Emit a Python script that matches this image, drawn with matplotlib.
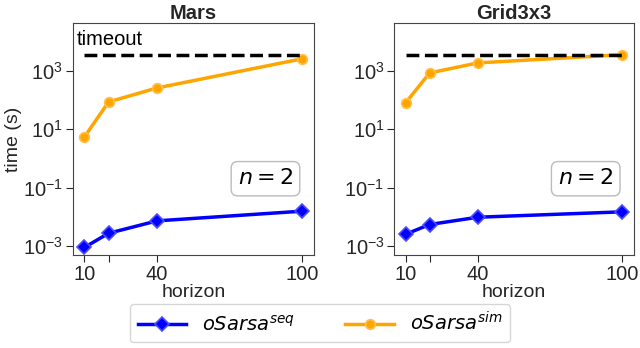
import matplotlib.pyplot as plt
from matplotlib.ticker import NullLocator, FixedLocator

horizons = [10, 20, 40, 100]
xtick_labels = ["10", "", "40", "100"]
timeout = 3600

panels = ["Mars", "Grid3x3"]
seq_times = {
    "Mars": [8.8e-4, 2.7e-3, 7.2e-3, 1.55e-2],
    "Grid3x3": [2.5e-3, 5.4e-3, 9.6e-3, 1.47e-2],
}
sim_times = {
    "Mars": [5.4, 86, 260, 2600],
    "Grid3x3": [80, 850, 1880, 3600],
}

plt.rcParams["font.family"] = ["Liberation Sans", "DejaVu Sans"]
plt.rcParams["font.size"] = 14
plt.rcParams["mathtext.fontset"] = "dejavusans"

fig = plt.figure(figsize=(6.4, 3.48), dpi=100)
ax_pos = [[0.114, 0.266, 0.376, 0.668], [0.616, 0.266, 0.374, 0.668]]

for i, name in enumerate(panels):
    ax = fig.add_axes(ax_pos[i])
    ax.plot(horizons, seq_times[name], color="blue", marker="D", markersize=7,
            linewidth=2.5, markeredgecolor="#4d4dff", markeredgewidth=1.2,
            label="$oSarsa^{seq}$")
    ax.plot(horizons, sim_times[name], color="orange", marker="o", markersize=7,
            linewidth=2.5, markeredgecolor="#ffc04d", markeredgewidth=1.2,
            label="$oSarsa^{sim}$")
    ax.plot([horizons[0], horizons[-1]], [timeout, timeout], "k--", linewidth=2.5)
    ax.set_yscale("log")
    ax.set_ylim(4.7e-4, 4.4e4)
    ax.set_xlim(5.3, 104.7)
    ax.yaxis.set_major_locator(FixedLocator([1e-3, 1e-1, 1e1, 1e3]))
    ax.yaxis.set_minor_locator(NullLocator())
    ax.set_xticks(horizons)
    ax.set_xticklabels(xtick_labels)
    ax.set_title(name, fontweight="bold", fontsize=14.5, pad=2, color="#262626")
    ax.set_xlabel("horizon", labelpad=0, color="#262626")
    for s in ax.spines.values():
        s.set_color("#444444")
    ax.tick_params(colors="#262626", length=5, labelsize=14.5, pad=2)
    ax.text(0.80, 0.33, "$n = 2$", transform=ax.transAxes, ha="center", va="center",
            fontsize=16, bbox=dict(boxstyle="round,pad=0.3", facecolor="white",
                                    edgecolor="#bbbbbb"))
    if i == 0:
        ax.set_ylabel("time (s)", labelpad=1, color="#262626")
        ax.text(horizons[0] - 3, 1.2e4, "timeout", fontsize=14.5, va="center")

handles, labels = ax.get_legend_handles_labels()
fig.legend(handles, labels, loc="lower center", ncol=2, bbox_to_anchor=(0.5, -0.012),
           fontsize=14, columnspacing=2.6, handlelength=2.5, fancybox=True)

fig.savefig("out.png", dpi=100)
